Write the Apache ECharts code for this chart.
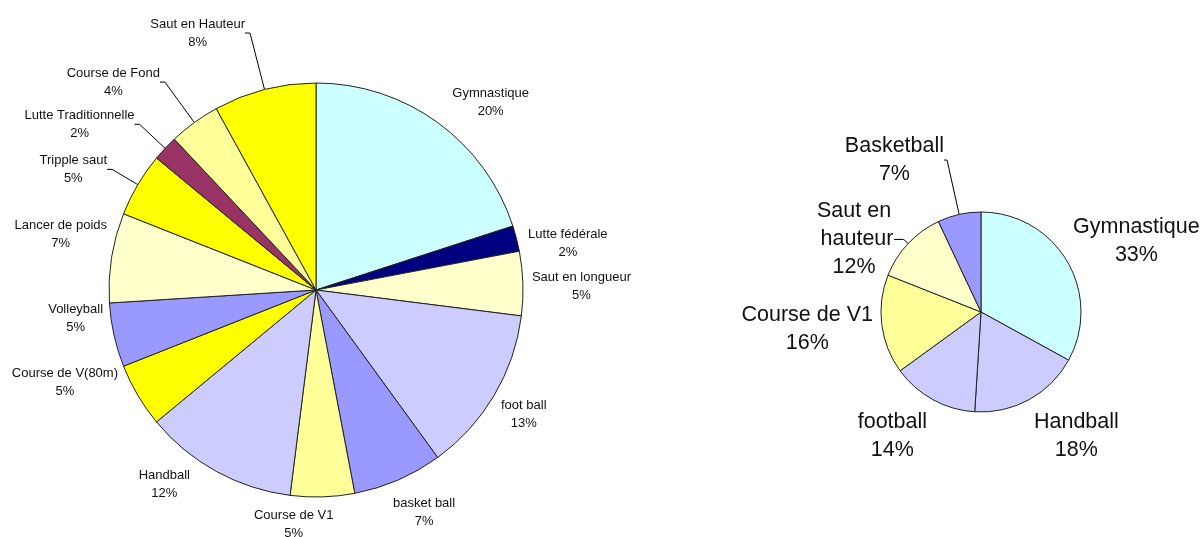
<!DOCTYPE html>
<html><head><meta charset="utf-8">
<script src="https://cdn.jsdelivr.net/npm/echarts@6/dist/echarts.min.js"></script>
<style>html,body{margin:0;padding:0;background:#fff}#c{width:1204px;height:537px}</style>
</head><body><div id="c"></div>
<script>
// ---- data ----
const leftCategories = ['Gymnastique','Lutte fédérale','Saut en longueur','foot ball','basket ball','Course de V1','Handball','Course de V(80m)','Volleyball','Lancer de poids','Tripple saut','Lutte Traditionnelle','Course de Fond','Saut en Hauteur'];
const leftValues = [20, 2, 5, 13, 7, 5, 12, 5, 5, 7, 5, 2, 4, 8];
const rightCategories = ['Gymnastique','Handball','football','Course de V1','Saut en hauteur','Basketball'];
const rightValues = [33, 18, 14, 16, 12, 7];

// ---- styles ----
const leftColors = ['#CCFFFF','#000080','#FFFFCC','#CCCCFF','#9999FF','#FFFF99','#CCCCFF','#FFFF00','#9999FF','#FFFFCC','#FFFF00','#993366','#FFFF99','#FFFF00'];
const rightColors = ['#CCFFFF','#CCCCFF','#CCCCFF','#FFFF99','#FFFFCC','#9999FF'];
// label line lengths [radial, horizontal, show leader]
const leftLabelPlace = [[25,0,false],[-18,29,false],[-100,109,false],[36.5,-24.6,false],[34.9,-19.1,false],[27.6,-69.4,false],[14.4,19.4,false],[-25.3,41.6,false],[-78,87,false],[151,-144.6,false],[30,5,true],[35,5,true],[50,5,true],[58.3,5,true]];
const rightLabelPlace = [[39.5,-28,false],[42.1,-15.5,false],[42.1,-14.5,false],[35.9,-26.8,false],[6,9.7,true],[55.7,3,true]];
const rightLabelExtra = {4: {width: 80, overflow: 'break'}};

const FONT = '"Liberation Sans", Arial, sans-serif';

function build(cats, vals, colors, place, extra) {
  return cats.map((n, i) => ({
    name: n,
    value: vals[i],
    itemStyle: { color: colors[i] },
    labelLine: { show: place[i][2], length: place[i][0], length2: place[i][1] },
    label: (extra && extra[i]) || {}
  }));
}

function pieSeries(center, radius, data, fontSize, lineHeight) {
  return {
    type: 'pie',
    center: center,
    radius: radius,
    startAngle: 90,
    clockwise: true,
    avoidLabelOverlap: false,
    animation: false,
    emphasis: { disabled: true },
    itemStyle: { borderColor: '#222', borderWidth: 1 },
    label: {
      show: true,
      position: 'outside',
      distanceToLabelLine: 0,
      fontFamily: FONT,
      fontSize: fontSize,
      lineHeight: lineHeight,
      color: '#111',
      formatter: p => '{a|' + p.name + '}\n{a|' + Math.round(p.percent) + '%}',
      rich: { a: { align: 'center', fontFamily: FONT, fontSize: fontSize, lineHeight: lineHeight, color: '#111' } }
    },
    labelLine: { smooth: false, lineStyle: { color: '#000', width: 1 } },
    data: data
  };
}

const chart = echarts.init(document.getElementById('c'), null, { renderer: 'canvas' });
chart.setOption({
  backgroundColor: '#ffffff',
  tooltip: { show: false },
  series: [
    pieSeries([316, 290], 207, build(leftCategories, leftValues, leftColors, leftLabelPlace, null), 13, 18),
    pieSeries([981, 312], 100, build(rightCategories, rightValues, rightColors, rightLabelPlace, rightLabelExtra), 21.5, 28)
  ]
});
</script>
</body></html>
